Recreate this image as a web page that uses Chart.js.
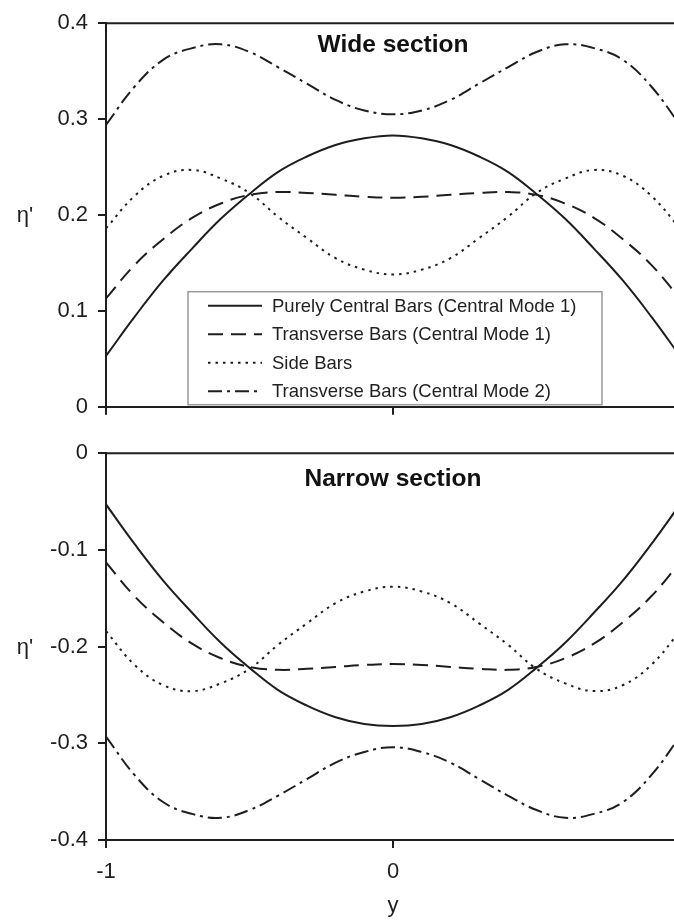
<!DOCTYPE html>
<html>
<head>
<meta charset="utf-8">
<title>Wide and narrow section profiles</title>
<script src="https://cdn.jsdelivr.net/npm/chart.js@4.4.0/dist/chart.umd.min.js"></script>
<style>
    html, body {
        margin: 0;
        padding: 0;
        width: 674px;
        height: 920px;
        overflow: hidden;
        background: #fff;
    }
    canvas {
        position: absolute;
        left: 0;
    }
    #wideChart { top: 0; }
    #narrowChart { top: 430px; }
</style>
</head>
<body>
<canvas id="wideChart" width="700" height="430"></canvas>
<canvas id="narrowChart" width="700" height="490"></canvas>
<script>
// ===== Data =====
const yPositions = [-1, -0.9, -0.8, -0.7, -0.6, -0.5, -0.4, -0.3, -0.2, -0.1, 0,
                    0.1, 0.2, 0.3, 0.4, 0.5, 0.6, 0.7, 0.8, 0.9, 1];

const xTicks = [-1, 0, 1];
const wideTicks = [0, 0.1, 0.2, 0.3, 0.4];
const narrowTicks = [-0.4, -0.3, -0.2, -0.1, 0];

const seriesNames = [
    'Purely Central Bars (Central Mode 1)',
    'Transverse Bars (Central Mode 1)',
    'Side Bars',
    'Transverse Bars (Central Mode 2)'
];

// Wide section
const wideCentral1 = [0.053, 0.094, 0.132, 0.165, 0.196, 0.222, 0.245, 0.261, 0.273, 0.280, 0.283,
                      0.280, 0.273, 0.261, 0.245, 0.222, 0.196, 0.165, 0.132, 0.094, 0.053];
const wideTransverse1 = [0.113, 0.148, 0.175, 0.197, 0.212, 0.221, 0.224, 0.223, 0.221, 0.219, 0.218,
                         0.219, 0.221, 0.223, 0.224, 0.221, 0.212, 0.197, 0.175, 0.148, 0.113];
const wideSide = [0.186, 0.220, 0.241, 0.247, 0.238, 0.223, 0.198, 0.176, 0.155, 0.143, 0.138,
                  0.143, 0.155, 0.176, 0.198, 0.223, 0.238, 0.247, 0.241, 0.220, 0.186];
const wideTransverse2 = [0.294, 0.334, 0.362, 0.374, 0.378, 0.370, 0.354, 0.337, 0.320, 0.309, 0.305,
                         0.309, 0.320, 0.337, 0.354, 0.370, 0.378, 0.374, 0.362, 0.334, 0.294];

// Narrow section
const narrowCentral1 = [-0.053, -0.094, -0.132, -0.165, -0.196, -0.222, -0.245, -0.261, -0.273, -0.280, -0.282,
                        -0.280, -0.273, -0.261, -0.245, -0.222, -0.196, -0.165, -0.132, -0.094, -0.053];
const narrowTransverse1 = [-0.113, -0.148, -0.175, -0.197, -0.212, -0.221, -0.224, -0.223, -0.221, -0.219, -0.218,
                           -0.219, -0.221, -0.223, -0.224, -0.221, -0.212, -0.197, -0.175, -0.148, -0.113];
const narrowSide = [-0.184, -0.219, -0.240, -0.246, -0.238, -0.223, -0.198, -0.176, -0.155, -0.143, -0.138,
                    -0.143, -0.155, -0.176, -0.198, -0.223, -0.238, -0.246, -0.240, -0.219, -0.184];
const narrowTransverse2 = [-0.293, -0.333, -0.361, -0.373, -0.377, -0.369, -0.354, -0.337, -0.320, -0.309, -0.304,
                           -0.309, -0.320, -0.337, -0.354, -0.369, -0.377, -0.373, -0.361, -0.333, -0.293];

// ===== Styles =====
const FONT = '"Liberation Sans", Arial, Helvetica, sans-serif';
const INK = '#1e1e1e';
const lineDashes = [[], [15, 8], [2.5, 5], [14, 5, 3, 5]];

Chart.defaults.font.family = FONT;
Chart.defaults.color = INK;

function buildDatasets(seriesList) {
    return seriesList.map((vals, i) => ({
        label: seriesNames[i],
        data: yPositions.map((y, j) => ({ x: y, y: vals[j] })),
        borderColor: INK,
        borderWidth: 2,
        borderDash: lineDashes[i],
        pointRadius: 0,
        tension: 0.4,
        fill: false
    }));
}

// Frame top line, panel title, η' label and the boxed legend
const panelDecor = {
    id: 'panelDecor',
    afterDraw(chart, args, opts) {
        const { ctx, chartArea: a, scales } = chart;
        ctx.save();

        ctx.strokeStyle = INK;
        ctx.lineWidth = 2;
        ctx.beginPath();
        ctx.moveTo(a.left, a.top);
        ctx.lineTo(a.right + 20, a.top);
        ctx.stroke();

        ctx.fillStyle = '#111';
        ctx.font = 'bold 24.5px ' + FONT;
        ctx.textAlign = 'center';
        ctx.textBaseline = 'alphabetic';
        ctx.fillText(opts.title, scales.x.getPixelForValue(0), a.top + opts.titleDrop);

        ctx.font = '22px ' + FONT;
        ctx.textBaseline = 'middle';
        ctx.fillStyle = INK;
        ctx.fillText("η'", 25, (a.top + a.bottom) / 2 + 1);

        if (opts.legend) {
            const bx = a.left + 82, by = a.top + 268.5, bw = 414, bh = 113;
            ctx.fillStyle = '#fff';
            ctx.fillRect(bx, by, bw, bh);
            ctx.strokeStyle = '#9a9a9a';
            ctx.lineWidth = 1.5;
            ctx.strokeRect(bx, by, bw, bh);

            ctx.font = '18.5px ' + FONT;
            ctx.textAlign = 'left';
            chart.data.datasets.forEach((ds, i) => {
                const ry = by + 14 + i * 28.5;
                ctx.strokeStyle = INK;
                ctx.lineWidth = 2;
                ctx.setLineDash(ds.borderDash);
                ctx.beginPath();
                ctx.moveTo(bx + 20, ry);
                ctx.lineTo(bx + 74, ry);
                ctx.stroke();
                ctx.setLineDash([]);
                ctx.fillStyle = '#222';
                ctx.fillText(ds.label, bx + 84, ry + 1);
            });
        }
        ctx.restore();
    }
};

function yAxis(min, max, tickList) {
    return {
        min: min,
        max: max,
        afterBuildTicks: axis => { axis.ticks = tickList.map(v => ({ value: v })); },
        afterFit: axis => { axis.width = 106; },
        border: { display: true, color: INK, width: 2 },
        grid: { drawOnChartArea: false, drawTicks: true, tickLength: 8, color: INK, lineWidth: 2 },
        ticks: { color: INK, font: { size: 22 }, padding: 10 }
    };
}

function xAxis(height, showLabels) {
    return {
        type: 'linear',
        min: -1,
        max: 1,
        afterBuildTicks: axis => { axis.ticks = xTicks.map(v => ({ value: v })); },
        afterFit: axis => { axis.height = height; },
        border: { display: true, color: INK, width: 2 },
        grid: { drawOnChartArea: false, drawTicks: true, tickLength: 8, color: INK, lineWidth: 2 },
        ticks: { display: showLabels, color: INK, font: { size: 22 }, padding: 11, maxRotation: 0 },
        title: {
            display: showLabels,
            text: 'y',
            color: INK,
            font: { size: 22 },
            padding: { top: 0, bottom: 1 }
        }
    };
}

function makePanel(canvasId, seriesList, yMin, yMax, tickList, xHeight, showX, decor) {
    const ctx = document.getElementById(canvasId);
    return new Chart(ctx, {
        type: 'line',
        data: { datasets: buildDatasets(seriesList) },
        options: {
            responsive: false,
            animation: false,
            layout: { padding: { left: 0, right: 20, top: 22.5, bottom: 0 } },
            plugins: {
                legend: { display: false },
                tooltip: { enabled: false },
                panelDecor: decor
            },
            scales: {
                x: xAxis(xHeight, showX),
                y: yAxis(yMin, yMax, tickList)
            }
        },
        plugins: [panelDecor]
    });
}

makePanel('wideChart',
    [wideCentral1, wideTransverse1, wideSide, wideTransverse2],
    0, 0.4, wideTicks, 20, false,
    { title: 'Wide section', titleDrop: 28.5, legend: true });

makePanel('narrowChart',
    [narrowCentral1, narrowTransverse1, narrowSide, narrowTransverse2],
    -0.4, 0, narrowTicks, 80, true,
    { title: 'Narrow section', titleDrop: 32.5, legend: false });
</script>
</body>
</html>
